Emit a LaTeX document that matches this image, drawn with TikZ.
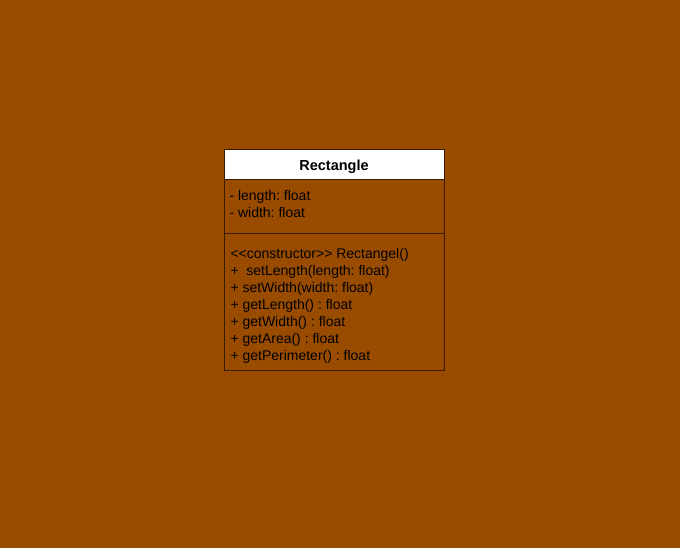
\documentclass[tikz,border=0pt]{standalone}
\usepackage{fontspec}
\setmainfont{Liberation Sans}
\frenchspacing
\usetikzlibrary{positioning}
\definecolor{umlbg}{HTML}{994C00}
\definecolor{umledge}{HTML}{3A1C00}
\tikzset{
	every path/.style={line width=1pt},
	compartment/.style={
		draw=umledge,
		rectangle,
		minimum width=220pt,
		inner sep=0pt,
		outer sep=0pt,
	},
	classhead/.style={
		compartment,
		fill=white,
		minimum height=30pt,
		text height=10.5pt,
		text depth=0pt,
		font=\fontsize{14.5}{17}\selectfont\bfseries,
	},
	members/.style={
		align=left,
		anchor=north west,
		inner sep=0pt,
		font=\fontsize{14}{17}\selectfont,
	},
}
\begin{document}
\begin{tikzpicture}[x=1pt,y=-1pt]
		\fill[umlbg] (0,0) rectangle (680,548);
		\useasboundingbox (0,0) rectangle (680,548);

		\node[classhead]                                (head) at (334,165) {Rectangle};
		\node[compartment,minimum height=54pt,below=0pt of head]  (attrs) {};
		\node[compartment,minimum height=136pt,below=0pt of attrs] (ops) {};

		\node[members] (attrtext) at ([xshift=5pt,yshift=-10pt]attrs.north west)
			{- length: float\\- width: float};
		\node[members] (optext) at ([xshift=6pt,yshift=-14pt]ops.north west)
			{{<}{<}constructor{>}{>} Rectangel()\\
			 +~~setLength(length: float)\\
			 + setWidth(width: float)\\
			 + getLength() : float\\
			 + getWidth() : float\\
			 + getArea() : float\\
			 + getPerimeter() : float};

	\end{tikzpicture}
\end{document}
